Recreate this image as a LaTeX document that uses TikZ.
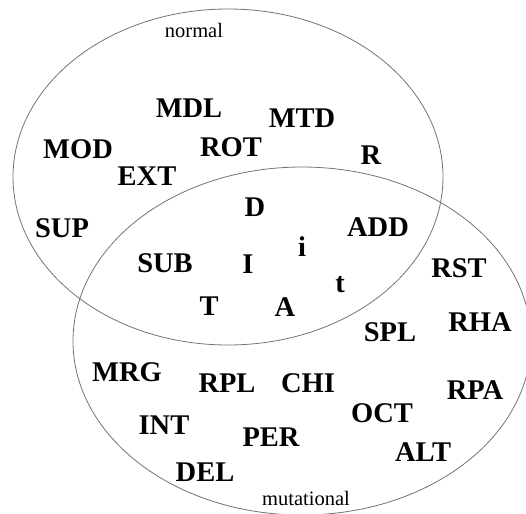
\documentclass[tikz,border=0pt]{standalone}
\usepackage{fontspec}
\setmainfont{Liberation Serif}
\usepackage{tikz}
\tikzset{
  term/.style     = {font=\bfseries\fontsize{28.5}{30}\selectfont, inner sep=0pt},
  setname/.style  = {font=\fontsize{20.5}{22}\selectfont, inner sep=0pt},
  setline/.style  = {draw=black!55, line width=0.8pt}
}

\begin{document}
\begin{tikzpicture}[x=1pt, y=-1pt]
        \useasboundingbox (0,0) rectangle (526,513);
        \clip (0,0) rectangle (526,513);
        % the two sets
        \draw[setline] (228,177) ellipse [x radius=215, y radius=168];
        \draw[setline] (302,341) ellipse [x radius=229, y radius=174];
        \node[setname] (normal) at (194,30)  {normal};
        \node[setname] (mutat)  at (306,498) {mutational};
        % normal only
        \node[term] (mdl) at (189,108) {MDL};
        \node[term] (mtd) at (302,118) {MTD};
        \node[term] (mod) at (78,149)  {MOD};
        \node[term] (rot) at (231,147) {ROT};
        \node[term] (r)   at (371,155) {R};
        \node[term] (ext) at (147,176) {EXT};
        \node[term] (sup) at (62,228)  {SUP};
        % both
        \node[term] (d)   at (255,207) {D};
        \node[term] (add) at (378,227) {ADD};
        \node[term] (ii)  at (302,247) {i};
        \node[term] (sub) at (165,263) {SUB};
        \node[term] (ci)  at (248,264) {I};
        \node[term] (tt)  at (340,285) {t};
        \node[term] (ct)  at (209,306) {T};
        \node[term] (ca)  at (285,307) {A};
        % mutational only
        \node[term] (rst) at (459,268) {RST};
        \node[term] (rha) at (480,322) {RHA};
        \node[term] (spl) at (390,332) {SPL};
        \node[term] (mrg) at (127,372) {MRG};
        \node[term] (rpl) at (227,383) {RPL};
        \node[term] (chi) at (308,383) {CHI};
        \node[term] (rpa) at (475,390) {RPA};
        \node[term] (oct) at (382,413) {OCT};
        \node[term] (int) at (164,425) {INT};
        \node[term] (per) at (271,437) {PER};
        \node[term] (alt) at (423,452) {ALT};
        \node[term] (del) at (205,472) {DEL};
      \end{tikzpicture}
\end{document}
